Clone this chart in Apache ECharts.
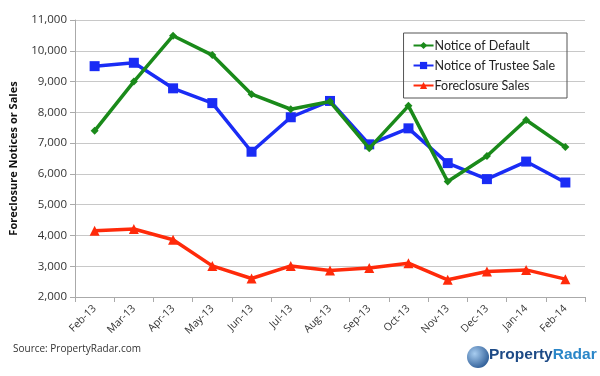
<!DOCTYPE html>
<html>
<head>
<meta charset="utf-8">
<script src="https://cdn.jsdelivr.net/npm/echarts@6/dist/echarts.min.js"></script>
<style>
  html, body { margin: 0; padding: 0; background: #fff; }
  #chart { width: 600px; height: 376px; }
</style>
</head>
<body>
<div id="chart"></div>
<script>
const months = ['Feb-13', 'Mar-13', 'Apr-13', 'May-13', 'Jun-13', 'Jul-13', 'Aug-13',
  'Sep-13', 'Oct-13', 'Nov-13', 'Dec-13', 'Jan-14', 'Feb-14']
const noticeOfDefault = [7400, 9000, 10490, 9860, 8590, 8100, 8350, 6830, 8210, 5750, 6580, 7750, 6870]
const trusteeSale = [9500, 9610, 8780, 8300, 6720, 7840, 8370, 6960, 7480, 6350, 5830, 6400, 5720]
const foreclosureSales = [4150, 4210, 3860, 3010, 2600, 3010, 2860, 2940, 3100, 2560, 2830, 2880, 2580]

const chart = echarts.init(document.getElementById('chart'))
const font = "'Open Sans', 'DejaVu Sans', sans-serif"

const option = {
  animation: false,
  textStyle: { fontFamily: font },
  grid: { left: 73, right: 15, top: 20, bottom: 79 },
  legend: {
    orient: 'vertical',
    right: 33,
    top: 33,
    itemWidth: 20,
    itemHeight: 9,
    itemGap: 7,
    padding: [6, 12, 6, 9],
    borderColor: '#555',
    borderWidth: 1,
    textStyle: { fontSize: 12.5, color: '#222', fontFamily: 'Lato', padding: [0, 0, 0, -4] },
    data: ['Notice of Default', 'Notice of Trustee Sale', 'Foreclosure Sales']
  },
  xAxis: {
    type: 'category',
    data: months,
    boundaryGap: true,
    axisLine: { lineStyle: { color: '#aaa' } },
    axisTick: { show: true, interval: 0, length: 5, lineStyle: { color: '#aaa' } },
    axisLabel: { rotate: 45, fontSize: 10.5, color: '#333', interval: 0, margin: 10 }
  },
  yAxis: {
    type: 'value',
    min: 2000,
    max: 11000,
    interval: 1000,
    name: 'Foreclosure Notices or Sales',
    nameLocation: 'middle',
    nameGap: 56,
    nameTextStyle: { fontSize: 11, fontWeight: 'bold', color: '#111' },
    axisLine: { show: true, lineStyle: { color: '#aaa' } },
    axisTick: { show: true, length: 5, lineStyle: { color: '#aaa' } },
    axisLabel: {
      fontSize: 11.5,
      color: '#333',
      formatter: v => v.toLocaleString('en-US')
    },
    splitLine: { lineStyle: { color: '#c8c8c8' } }
  },
  series: [
    {
      name: 'Notice of Default',
      type: 'line',
      data: noticeOfDefault,
      symbol: 'diamond',
      symbolSize: 8,
      z: 3,
      lineStyle: { width: 3.5, color: '#1a8a1a' },
      itemStyle: { color: '#1a8a1a' }
    },
    {
      name: 'Notice of Trustee Sale',
      type: 'line',
      data: trusteeSale,
      symbol: 'rect',
      symbolSize: 10,
      z: 2,
      lineStyle: { width: 3.5, color: '#1a2cf5' },
      itemStyle: { color: '#1a2cf5' }
    },
    {
      name: 'Foreclosure Sales',
      type: 'line',
      data: foreclosureSales,
      symbol: 'triangle',
      symbolSize: 10,
      lineStyle: { width: 3.5, color: '#ff2a0a' },
      itemStyle: { color: '#ff2a0a' }
    }
  ],
  graphic: [
    {
      type: 'text',
      left: 13,
      top: 344,
      style: { text: 'Source: PropertyRadar.com', font: '10px ' + font, fill: '#333' }
    },
    {
      type: 'circle',
      shape: { cx: 478, cy: 357, r: 11 },
      style: {
        fill: new echarts.graphic.RadialGradient(0.35, 0.35, 0.8, [
          { offset: 0, color: '#a8cdf0' },
          { offset: 1, color: '#1f4f8c' }
        ])
      }
    },
    {
      type: 'text',
      left: 489,
      top: 347,
      style: {
        text: '{a|Property}{b|Radar}',
        rich: {
          a: { fontSize: 15.5, fontFamily: 'Liberation Sans', fontWeight: 'bold', fill: '#1d4a86' },
          b: { fontSize: 15.5, fontFamily: 'Liberation Sans', fontWeight: 'bold', fill: '#2a86c8' }
        }
      }
    }
  ]
}

chart.setOption(option)
</script>
</body>
</html>
